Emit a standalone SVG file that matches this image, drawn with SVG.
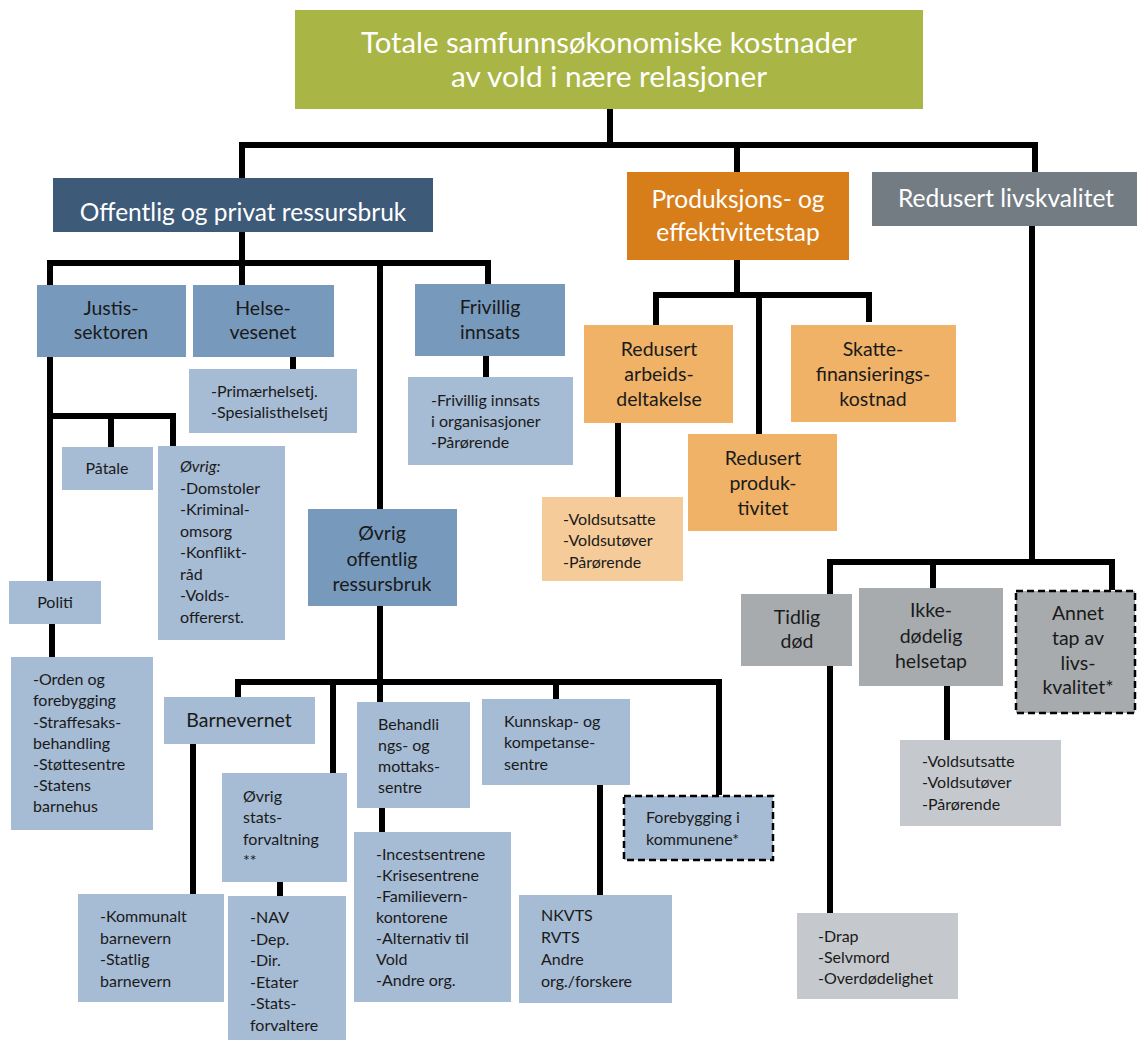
<svg xmlns="http://www.w3.org/2000/svg" width="1137" height="1041" viewBox="0 0 1137 1041">
<style>
  .ln{fill:none;stroke:#000;stroke-width:6;stroke-linejoin:miter;stroke-linecap:butt}
  text{font-family:Lato,"Liberation Sans",sans-serif;fill:#1a1a1a}
  .w{fill:#fff}
  .c{text-anchor:middle}
  .m{font-size:19.5px}
  .s{font-size:16px}
  .h{font-size:24.5px}
  .g{fill:#A9B545}.db{fill:#3D5A78}.or{fill:#D77E1A}.gh{fill:#737B83}
  .mb{fill:#7799BC}.lb{fill:#A6BBD4}.lo{fill:#EFB267}.pe{fill:#F5CB99}
  .gm{fill:#A7ABAE}.gl{fill:#C5C9CD}
  .dash{stroke:#000;stroke-width:2.5;stroke-dasharray:7 4}
</style>
<rect width="1137" height="1041" fill="#fff"/>
<g id="connectors">
  <path class="ln" d="M610,109 V145 M242,178 V145 H1035 V172 M737,145 V172"/>
  <path class="ln" d="M242,232 V285 M50,285 V263 H488 V284 M380,263 V510"/>
  <path class="ln" d="M50,357 V581 M50,416 H173 V447 M111,416 V447 M52,624 V657"/>
  <path class="ln" d="M293,357 V369 M486,356 V377"/>
  <path class="ln" d="M380,606 V702 M238,697 V682 H719 V795 M333,682 V773 M556,682 V699"/>
  <path class="ln" d="M193,744 V894 M280,882 V896 M382,808 V832 M600,785 V895"/>
  <path class="ln" d="M737,260 V295 M656,325 V295 H869 V322 M759,295 V434 M618,423 V497"/>
  <path class="ln" d="M1032,226 V562 M830,594 V562 H1112 V590 M933,562 V588 M830,666 V913 M947,686 V740"/>
</g>
<g id="n-total">
  <rect class="g" x="295" y="10" width="628" height="99"/>
  <text class="w c" x="609" y="53" font-size="29" textLength="496" lengthAdjust="spacingAndGlyphs">Totale samfunnsøkonomiske kostnader</text>
  <text class="w c" x="609" y="87" font-size="29" textLength="316" lengthAdjust="spacingAndGlyphs">av vold i nære relasjoner</text>
</g>
<g id="n-offentlig">
  <rect class="db" x="53" y="178" width="380" height="54"/>
  <text class="w c h" x="243" y="221">Offentlig og privat ressursbruk</text>
</g>
<g id="n-produksjon">
  <rect class="or" x="627" y="172" width="222" height="88"/>
  <text class="w c h" x="738" y="208">Produksjons- og</text>
  <text class="w c h" x="738" y="241">effektivitetstap</text>
</g>
<g id="n-livskvalitet">
  <rect class="gh" x="872" y="172" width="265" height="54"/>
  <text class="w c h" x="1006" y="207">Redusert livskvalitet</text>
</g>
<g id="n-justis">
  <rect class="mb" x="37" y="285" width="149" height="72"/>
  <text class="m c" x="111" y="315">Justis-</text>
  <text class="m c" x="111" y="339">sektoren</text>
</g>
<g id="n-helse">
  <rect class="mb" x="193" y="285" width="141" height="72"/>
  <text class="m c" x="263" y="315">Helse-</text>
  <text class="m c" x="263" y="339">vesenet</text>
</g>
<g id="n-frivillig">
  <rect class="mb" x="415" y="284" width="150" height="72"/>
  <text class="m c" x="490" y="314">Frivillig</text>
  <text class="m c" x="490" y="339">innsats</text>
</g>
<g id="n-helse-sub">
  <rect class="lb" x="189" y="369" width="168" height="64"/>
  <text class="s" x="211" y="397">-Primærhelsetj.</text>
  <text class="s" x="211" y="418">-Spesialisthelsetj</text>
</g>
<g id="n-frivillig-sub">
  <rect class="lb" x="408" y="377" width="165" height="88"/>
  <text class="s" x="431" y="406">-Frivillig innsats</text>
  <text class="s" x="431" y="427">i organisasjoner</text>
  <text class="s" x="431" y="448">-Pårørende</text>
</g>
<g id="n-patale">
  <rect class="lb" x="62" y="447" width="91" height="43"/>
  <text class="s c" x="107" y="474">Påtale</text>
</g>
<g id="n-ovrig-justis">
  <rect class="lb" x="158" y="446" width="127" height="194"/>
  <text class="s" x="180" y="472" font-style="italic">Øvrig:</text>
  <text class="s" x="180" y="494">-Domstoler</text>
  <text class="s" x="180" y="515">-Kriminal-</text>
  <text class="s" x="180" y="537">omsorg</text>
  <text class="s" x="180" y="558">-Konflikt-</text>
  <text class="s" x="180" y="580">råd</text>
  <text class="s" x="180" y="601">-Volds-</text>
  <text class="s" x="180" y="623">offererst.</text>
</g>
<g id="n-politi">
  <rect class="lb" x="9" y="581" width="92" height="43"/>
  <text class="s c" x="55" y="608">Politi</text>
</g>
<g id="n-politi-sub">
  <rect class="lb" x="11" y="657" width="142" height="173"/>
  <text class="s" x="33" y="685">-Orden og</text>
  <text class="s" x="33" y="706">forebygging</text>
  <text class="s" x="33" y="728">-Straffesaks-</text>
  <text class="s" x="33" y="749">behandling</text>
  <text class="s" x="33" y="770">-Støttesentre</text>
  <text class="s" x="33" y="791">-Statens</text>
  <text class="s" x="33" y="812">barnehus</text>
</g>
<g id="n-ovrig-offentlig">
  <rect class="mb" x="308" y="509" width="149" height="97"/>
  <text class="m c" x="382" y="540">Øvrig</text>
  <text class="m c" x="382" y="566">offentlig</text>
  <text class="m c" x="382" y="591">ressursbruk</text>
</g>
<g id="n-barnevernet">
  <rect class="lb" x="164" y="697" width="151" height="47"/>
  <text class="m c" x="239" y="727">Barnevernet</text>
</g>
<g id="n-barnevern-sub">
  <rect class="lb" x="78" y="894" width="146" height="108"/>
  <text class="s" x="100" y="922">-Kommunalt</text>
  <text class="s" x="100" y="944">barnevern</text>
  <text class="s" x="100" y="965">-Statlig</text>
  <text class="s" x="100" y="987">barnevern</text>
</g>
<g id="n-stats">
  <rect class="lb" x="222" y="773" width="125" height="109"/>
  <text class="s" x="243" y="802">Øvrig</text>
  <text class="s" x="243" y="823">stats-</text>
  <text class="s" x="243" y="845">forvaltning</text>
  <text class="s" x="243" y="866">**</text>
</g>
<g id="n-stats-sub">
  <rect class="lb" x="228" y="896" width="118" height="144"/>
  <text class="s" x="250" y="923">-NAV</text>
  <text class="s" x="250" y="945">-Dep.</text>
  <text class="s" x="250" y="966">-Dir.</text>
  <text class="s" x="250" y="988">-Etater</text>
  <text class="s" x="250" y="1009">-Stats-</text>
  <text class="s" x="250" y="1031">forvaltere</text>
</g>
<g id="n-behandling">
  <rect class="lb" x="357" y="702" width="113" height="106"/>
  <text class="s" x="378" y="730">Behandli</text>
  <text class="s" x="378" y="751">ngs- og</text>
  <text class="s" x="378" y="772">mottaks-</text>
  <text class="s" x="378" y="793">sentre</text>
</g>
<g id="n-behandling-sub">
  <rect class="lb" x="354" y="832" width="157" height="170"/>
  <text class="s" x="376" y="860">-Incestsentrene</text>
  <text class="s" x="376" y="881">-Krisesentrene</text>
  <text class="s" x="376" y="902">-Familievern-</text>
  <text class="s" x="376" y="923">kontorene</text>
  <text class="s" x="376" y="944">-Alternativ til</text>
  <text class="s" x="376" y="965">Vold</text>
  <text class="s" x="376" y="986">-Andre org.</text>
</g>
<g id="n-kunnskap">
  <rect class="lb" x="482" y="699" width="148" height="86"/>
  <text class="s" x="504" y="727">Kunnskap- og</text>
  <text class="s" x="504" y="748">kompetanse-</text>
  <text class="s" x="504" y="770">sentre</text>
</g>
<g id="n-kunnskap-sub">
  <rect class="lb" x="519" y="895" width="153" height="108"/>
  <text class="s" x="541" y="921">NKVTS</text>
  <text class="s" x="541" y="943">RVTS</text>
  <text class="s" x="541" y="965">Andre</text>
  <text class="s" x="541" y="987">org./forskere</text>
</g>
<g id="n-forebygging">
  <rect class="lb dash" x="624" y="796" width="149" height="64"/>
  <text class="s" x="646" y="823">Forebygging i</text>
  <text class="s" x="646" y="845">kommunene*</text>
</g>
<g id="n-arbeid">
  <rect class="lo" x="584" y="325" width="149" height="98"/>
  <text class="m c" x="659" y="356">Redusert</text>
  <text class="m c" x="659" y="381">arbeids-</text>
  <text class="m c" x="659" y="406">deltakelse</text>
</g>
<g id="n-arbeid-sub">
  <rect class="pe" x="542" y="497" width="141" height="84"/>
  <text class="s" x="563" y="525">-Voldsutsatte</text>
  <text class="s" x="563" y="546">-Voldsutøver</text>
  <text class="s" x="563" y="568">-Pårørende</text>
</g>
<g id="n-produktivitet">
  <rect class="lo" x="688" y="434" width="149" height="97"/>
  <text class="m c" x="763" y="465">Redusert</text>
  <text class="m c" x="763" y="490">produk-</text>
  <text class="m c" x="763" y="515">tivitet</text>
</g>
<g id="n-skatte">
  <rect class="lo" x="791" y="325" width="165" height="97"/>
  <text class="m c" x="873" y="356">Skatte-</text>
  <text class="m c" x="873" y="381">finansierings-</text>
  <text class="m c" x="873" y="406">kostnad</text>
</g>
<g id="n-tidlig">
  <rect class="gm" x="741" y="594" width="111" height="72"/>
  <text class="m c" x="797" y="624">Tidlig</text>
  <text class="m c" x="797" y="648">død</text>
</g>
<g id="n-ikke">
  <rect class="gm" x="859" y="588" width="144" height="98"/>
  <text class="m c" x="931" y="617">Ikke-</text>
  <text class="m c" x="931" y="643">dødelig</text>
  <text class="m c" x="931" y="668">helsetap</text>
</g>
<g id="n-annet">
  <rect class="gm dash" x="1016" y="591" width="119" height="122"/>
  <text class="m c" x="1078" y="620">Annet</text>
  <text class="m c" x="1078" y="645">tap av</text>
  <text class="m c" x="1078" y="670">livs-</text>
  <text class="m c" x="1078" y="694">kvalitet*</text>
</g>
<g id="n-ikke-sub">
  <rect class="gl" x="900" y="740" width="161" height="86"/>
  <text class="s" x="922" y="767">-Voldsutsatte</text>
  <text class="s" x="922" y="788">-Voldsutøver</text>
  <text class="s" x="922" y="810">-Pårørende</text>
</g>
<g id="n-tidlig-sub">
  <rect class="gl" x="797" y="913" width="161" height="86"/>
  <text class="s" x="818" y="942">-Drap</text>
  <text class="s" x="818" y="963">-Selvmord</text>
  <text class="s" x="818" y="984">-Overdødelighet</text>
</g>
</svg>
